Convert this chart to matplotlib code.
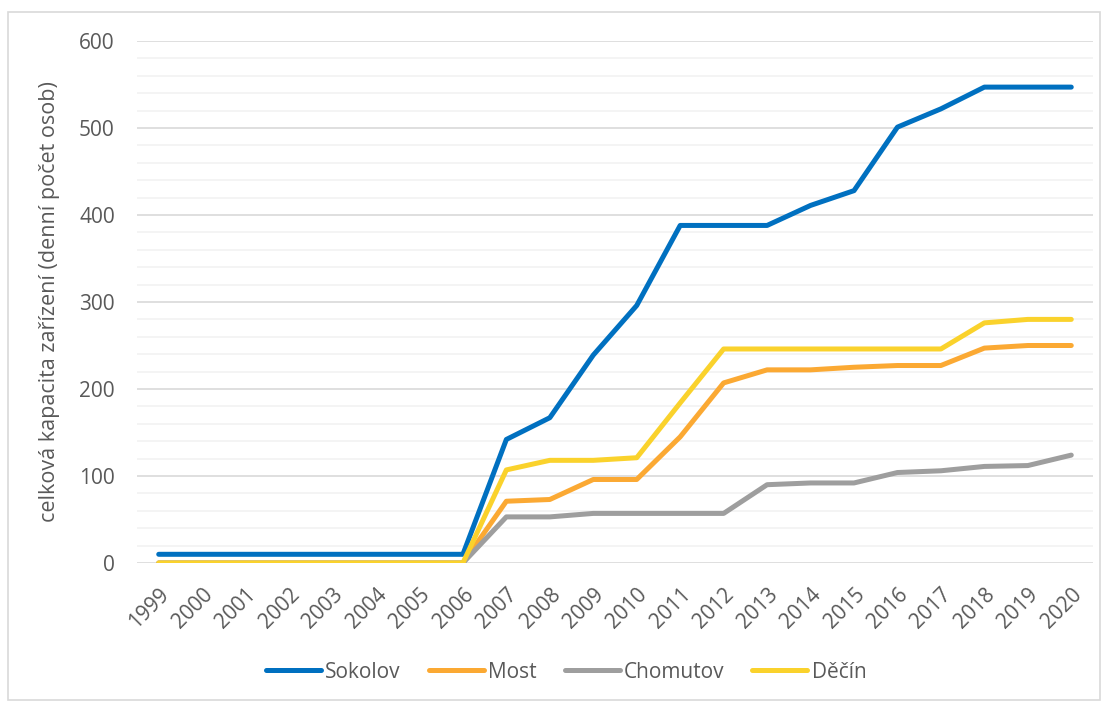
import numpy as np
import matplotlib.pyplot as plt
from matplotlib.patches import Rectangle

plt.rcParams['font.family'] = ['Open Sans', 'DejaVu Sans']

# roky
years = list(range(1999, 2021))

# celkova kapacita zarizeni (denni pocet osob)
sokolov = [10, 10, 10, 10, 10, 10, 10, 10, 142, 167, 239, 296, 388, 388,
           388, 411, 428, 501, 522, 547, 547, 547]
most = [0, 0, 0, 0, 0, 0, 0, 0, 71, 73, 96, 96, 145, 207,
        222, 222, 225, 227, 227, 247, 250, 250]
chomutov = [0, 0, 0, 0, 0, 0, 0, 0, 53, 53, 57, 57, 57, 57,
            90, 92, 92, 104, 106, 111, 112, 124]
decin = [0, 0, 0, 0, 0, 0, 0, 0, 107, 118, 118, 121, 184, 246,
         246, 246, 246, 246, 246, 276, 280, 280]

series = [("Sokolov", sokolov, "#0070C0"),
          ("Most", most, "#FBA933"),
          ("Chomutov", chomutov, "#9E9E9E"),
          ("Děčín", decin, "#FAD22C")]

txt = "#595959"

fig = plt.figure(figsize=(11.08, 7.04), dpi=100)
fig.patches.append(Rectangle((8 / 1108, 1 - 700 / 704), 1092 / 1108, 688 / 704,
                             transform=fig.transFigure, fill=False,
                             edgecolor="#d9d9d9", linewidth=1.2))
ax = fig.add_axes([137 / 1108, 1 - 563 / 704, (1093 - 137) / 1108, (563 - 41) / 704])

x = np.arange(len(years))
for name, vals, col in series:
    ax.plot(x, vals, color=col, linewidth=3.6, label=name,
            solid_capstyle="round", solid_joinstyle="round", zorder=3)

ax.set_xlim(-0.5, len(years) - 0.5)
ax.set_ylim(0, 600)
ax.set_yticks(np.arange(0, 601, 100))
ax.set_yticks(np.arange(0, 601, 20), minor=True)
ax.grid(axis="y", which="major", color="#d9d9d9", linewidth=1.2, zorder=0)
ax.grid(axis="y", which="minor", color="#f2f2f2", linewidth=1.2, zorder=0)
ax.tick_params(axis="y", which="both", length=0, pad=16, labelsize=15, labelcolor=txt)
ax.set_xticks(x)
ax.set_xticklabels([str(y) for y in years], rotation=45, ha="right",
                   rotation_mode="anchor")
ax.tick_params(axis="x", length=0, pad=15, labelsize=15, labelcolor=txt)
for s in ax.spines.values():
    s.set_visible(False)

ax.set_ylabel("celková kapacita zařízení (denní počet osob)", fontsize=15.5,
              color=txt)
ax.yaxis.set_label_coords(-0.0805, 0.5)

fig.legend(loc="center", bbox_to_anchor=(0.511, 1 - 672 / 704), ncol=4,
           frameon=False, fontsize=15, handlelength=2.64, handletextpad=0.2,
           columnspacing=1.35, labelcolor=txt)

fig.savefig("out.png", dpi=100)
